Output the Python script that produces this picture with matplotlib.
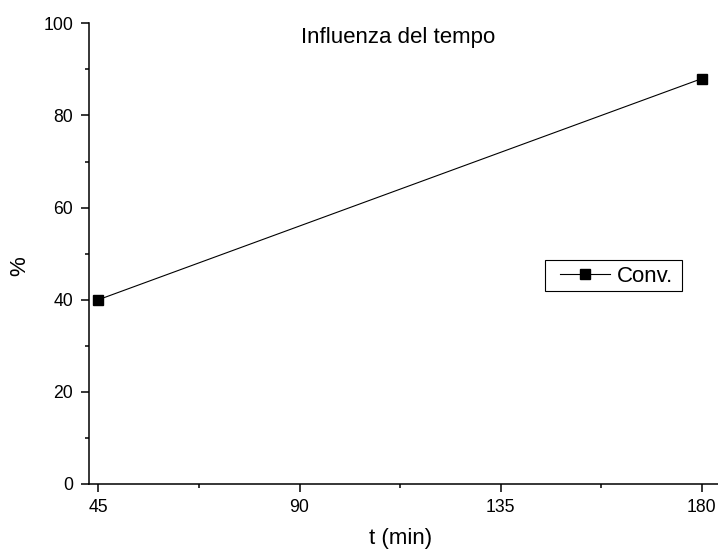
import matplotlib
matplotlib.use("Agg")
import matplotlib.pyplot as plt
from matplotlib.ticker import MultipleLocator, FixedLocator
from matplotlib.patches import Rectangle

plt.rcParams['font.family'] = ['Liberation Sans', 'DejaVu Sans']

t_min = [45, 180]
conv = [40, 88]
x_ticks = [45, 90, 135, 180]
title = "Influenza del tempo"

W, H = 718, 553
fig = plt.figure(figsize=(W / 100, H / 100), dpi=100)
l, r, b, tp = 89, 718, 553 - 484, 553 - 23.3
ax = fig.add_axes([l / W, b / H, (r - l) / W, (tp - b) / H])

def ax_x(px):
    return (px - l) / (r - l)

def ax_y(py):
    return (484 - py) / (484 - 23.3)

ax.plot(t_min, conv, color='black', lw=0.8, marker='s', ms=7, label='Conv.', clip_on=False)

ax.set_xlim(42.9, 183.6)
ax.set_ylim(0, 100)
ax.xaxis.set_major_locator(FixedLocator(x_ticks))
ax.xaxis.set_minor_locator(FixedLocator([67.5, 112.5, 157.5]))
ax.yaxis.set_major_locator(MultipleLocator(20))
ax.yaxis.set_minor_locator(MultipleLocator(10))

for s in ['top', 'right']:
    ax.spines[s].set_visible(False)
for s in ['left', 'bottom']:
    ax.spines[s].set_linewidth(1.1)

ax.tick_params(which='major', direction='out', length=6, width=1.1, labelsize=12.7)
ax.tick_params(axis='x', which='major', pad=4.8)
ax.tick_params(axis='y', which='major', pad=5.5)
ax.tick_params(which='minor', direction='out', length=3, width=1.1)

fig.text(401 / W, (553 - 544) / H, 't (min)', ha='center', va='baseline', fontsize=16)
fig.text(19.5 / W, (553 - 266) / H, '%', ha='center', va='center', rotation=90, fontsize=16)
ax.text(ax_x(398), ax_y(43.3), title, transform=ax.transAxes, ha='center', va='baseline', fontsize=16)

leg = ax.legend(loc='center left', bbox_to_anchor=(ax_x(560), ax_y(276)),
                frameon=False, fontsize=16, handlelength=2.25,
                borderpad=0, handletextpad=0.32, borderaxespad=0)
ax.add_patch(Rectangle((ax_x(545), ax_y(291)), ax_x(682) - ax_x(545), ax_y(260) - ax_y(291),
                       transform=ax.transAxes, fill=False, edgecolor='black', lw=0.8,
                       clip_on=False))

fig.savefig('out.png', dpi=100)
